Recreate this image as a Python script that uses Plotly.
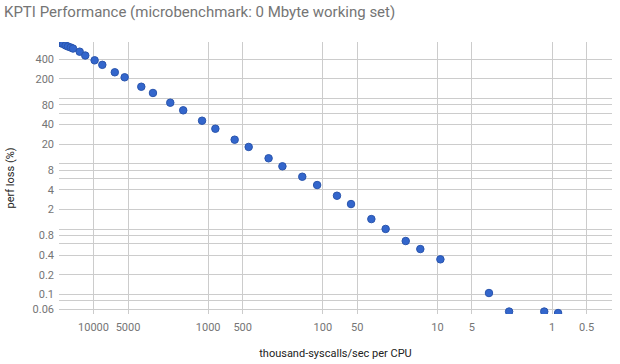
import plotly.graph_objects as go
import math

# Data: thousand-syscalls/sec per CPU vs perf loss (%)
syscalls_k = [21400, 20400, 19400, 18400, 17500, 16700, 15800, 15100,
              13200, 11800, 9780, 8380, 6520, 5350, 3830, 3030, 2140, 1650,
              1130, 865, 587, 443, 297, 225, 151, 112, 75.2, 56.7, 37.7, 28.3,
              18.9, 14.1, 9.42, 3.55, 2.37, 1.17, 0.886]
perf_loss = [776, 749, 711, 686, 651, 628, 606, 585,
             523, 457, 386, 329, 253, 212, 152, 122, 86.6, 66.2,
             45.9, 34.6, 23.5, 18.2, 12.2, 9.19, 6.37, 4.75, 3.26, 2.43, 1.43, 1.01,
             0.66, 0.497, 0.346, 0.1055, 0.0549, 0.0549, 0.0521]

x_tick_vals = [10000, 5000, 1000, 500, 100, 50, 10, 5, 1, 0.5]
x_tick_text = ["10000", "5000", "1000", "500", "100", "50", "10", "5", "1", "0.5"]

y_grid_vals = [400, 200, 100, 80, 60, 40, 20, 10, 8, 6, 4, 2, 1, 0.8, 0.6,
               0.4, 0.2, 0.1, 0.08, 0.06]
y_tick_text = ["400", "200", "", "80", "", "40", "20", "", "8", "", "4", "2", "",
               "0.8", "", "0.4", "0.2", "0.1", "", "0.06"]

FONT = "Roboto, Arial, sans-serif"

fig = go.Figure()
fig.add_trace(go.Scatter(
    x=syscalls_k, y=perf_loss, mode="markers",
    marker=dict(size=7.5, color="#3366cc", line=dict(color="#2a55ad", width=1)),
    cliponaxis=True, showlegend=False,
))

fig.update_layout(
    width=620, height=364,
    margin=dict(l=59, r=8, t=42, b=50, autoexpand=False),
    paper_bgcolor="white", plot_bgcolor="white",
    font=dict(family=FONT, size=11, color="#444"),
    title=dict(text="KPTI Performance (microbenchmark: 0 Mbyte working set)",
               x=0.0, xref="container", xanchor="left",
               y=0.967, yref="container", yanchor="middle",
               pad=dict(l=4, r=0, t=0, b=0),
               font=dict(family=FONT, size=15, color="#757575")),
    xaxis=dict(
        type="log", autorange=False, automargin=False,
        range=[math.log10(20000), math.log10(0.3)],
        tickvals=x_tick_vals, ticktext=x_tick_text,
        showgrid=True, gridcolor="#cccccc", gridwidth=1,
        zeroline=False, showline=False, ticks="",
        tickfont=dict(family=FONT, size=11, color="#757575"),
        ticklabelstandoff=5,
        title=dict(text="thousand-syscalls/sec per CPU", standoff=16,
                   font=dict(family=FONT, size=11, color="#222")),
    ),
    yaxis=dict(
        type="log", autorange=False, automargin=False,
        range=[-1.298, 2.867],
        tickvals=y_grid_vals, ticktext=y_tick_text,
        showgrid=True, gridcolor="#cccccc", gridwidth=1,
        zeroline=False, showline=False, ticks="",
        tickfont=dict(family=FONT, size=11, color="#757575"),
        ticklabelstandoff=4,
        title=dict(text="perf loss (%)", standoff=15,
                   font=dict(family=FONT, size=11, color="#222")),
    ),
)

fig.write_html("out.html",
               config={"displayModeBar": False},
               post_script="document.body.style.margin='0';document.body.style.overflow='hidden';")
